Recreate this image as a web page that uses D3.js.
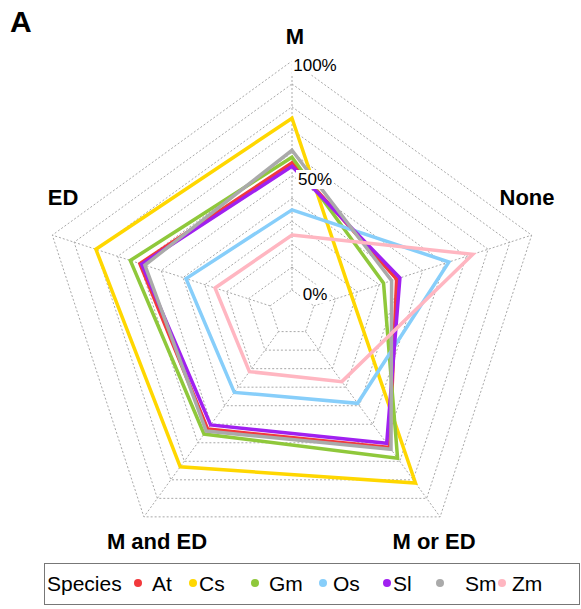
<!DOCTYPE html>
<html>
<head>
<meta charset="utf-8">
<script src="https://cdn.jsdelivr.net/npm/d3@7"></script>
<style>
  body { margin: 0; background: #fff; }
  svg text { font-family: "Liberation Sans", Arial, sans-serif; }
</style>
</head>
<body>
<svg id="chart" width="581" height="609"></svg>
<script>
// axes of the radar, clockwise from top
var axes = ["M", "None", "M or ED", "M and ED", "ED"];
var species = ["At", "Cs", "Gm", "Os", "Sl", "Sm", "Zm"];
var colors = ["#f2393c", "#ffd700", "#8fc83b", "#87cefa", "#a020f0", "#aaaaaa", "#ffb6c1"];

// fraction of genes per category (M, None, M or ED, M and ED, ED)
var At = [0.555, 0.38, 0.625, 0.526, 0.598];
var Cs = [0.75, 0.17, 0.817, 0.73, 0.80];
var Gm = [0.58, 0.32, 0.684, 0.553, 0.642];
var Os = [0.35, 0.62, 0.387, 0.328, 0.386];
var Sl = [0.54, 0.395, 0.603, 0.504, 0.59];
var Sm = [0.61, 0.357, 0.635, 0.537, 0.575];
var Zm = [0.24, 0.73, 0.27, 0.216, 0.253];
var seriesValues = [At, Cs, Gm, Os, Sl, Sm, Zm];

var gridLevels = d3.range(0, 1.0001, 0.1);
var tickLabels = [{v: 0, t: "0%"}, {v: 0.5, t: "50%"}, {v: 1, t: "100%"}];

var cx = 292, cy = 313;
var r = d3.scaleLinear().domain([0, 1]).range([23, 252]);
var step = 2 * Math.PI / axes.length;

var svg = d3.select("#chart");
var g = svg.append("g").attr("transform", "translate(" + cx + "," + cy + ")");

function pt(i, v) {
  var a = i * step;
  return [Math.sin(a) * r(v), -Math.cos(a) * r(v)];
}

// grid rings
g.selectAll(".ring").data(gridLevels).enter().append("polygon")
  .attr("points", function (lv) {
    return axes.map(function (d, i) { return pt(i, lv).join(","); }).join(" ");
  })
  .attr("fill", "none")
  .attr("stroke", "#a8a8a8")
  .attr("stroke-width", 1)
  .attr("stroke-dasharray", "2,2");

// spokes
g.selectAll(".spoke").data(axes).enter().append("line")
  .attr("x1", function (d, i) { return pt(i, 0)[0]; })
  .attr("y1", function (d, i) { return pt(i, 0)[1]; })
  .attr("x2", function (d, i) { return pt(i, 1)[0]; })
  .attr("y2", function (d, i) { return pt(i, 1)[1]; })
  .attr("stroke", "#a8a8a8")
  .attr("stroke-width", 1)
  .attr("stroke-dasharray", "2,2");

// species lines
var line = d3.lineRadial()
  .angle(function (d, i) { return i * step; })
  .radius(function (d) { return r(d); })
  .curve(d3.curveLinearClosed);

g.selectAll(".series").data(seriesValues).enter().append("path")
  .attr("d", line)
  .attr("fill", "none")
  .attr("stroke", function (d, i) { return colors[i]; })
  .attr("stroke-width", 3.5)
  .attr("stroke-linejoin", "miter");

// percent labels on white boxes
var ticks = g.selectAll(".tick").data(tickLabels).enter().append("g");
var tickText = ticks.append("text")
  .attr("x", 23)
  .attr("y", function (d) { return -r(d.v) + 9.5; })
  .attr("text-anchor", "middle")
  .attr("font-size", 17)
  .text(function (d) { return d.t; });
tickText.each(function () {
  var b = this.getBBox();
  d3.select(this.parentNode).insert("rect", "text")
    .attr("x", b.x - 2).attr("y", b.y)
    .attr("width", b.width + 4).attr("height", b.height)
    .attr("fill", "#fff");
});

// axis labels
var labelPos = [[295, 36], [527, 197], [434, 541], [157, 541], [63, 197]];
svg.selectAll(".axlab").data(axes).enter().append("text")
  .attr("x", function (d, i) { return labelPos[i][0]; })
  .attr("y", function (d, i) { return labelPos[i][1]; })
  .attr("dy", "0.35em")
  .attr("text-anchor", "middle")
  .attr("font-size", 22)
  .attr("font-weight", "bold")
  .text(function (d) { return d; });

// panel letter
svg.append("text")
  .attr("x", 10).attr("y", 32)
  .attr("font-size", 30)
  .attr("font-weight", "bold")
  .text("A");

// legend
var leg = svg.append("g");
leg.append("rect")
  .attr("x", 44.5).attr("y", 563.5)
  .attr("width", 535).attr("height", 41)
  .attr("fill", "#fff")
  .attr("stroke", "#777");
leg.append("text")
  .attr("x", 47).attr("y", 591)
  .attr("font-size", 21)
  .text("Species");
var dotX = [138, 193, 255, 323, 387, 440, 502];
var textX = [152, 199, 269, 333, 393, 465, 512];
leg.selectAll(".ldot").data(species).enter().append("circle")
  .attr("cx", function (d, i) { return dotX[i]; })
  .attr("cy", 583)
  .attr("r", 4)
  .attr("fill", function (d, i) { return colors[i]; });
leg.selectAll(".ltxt").data(species).enter().append("text")
  .attr("x", function (d, i) { return textX[i]; })
  .attr("y", 591)
  .attr("font-size", 21)
  .text(function (d) { return d; });
</script>
</body>
</html>
